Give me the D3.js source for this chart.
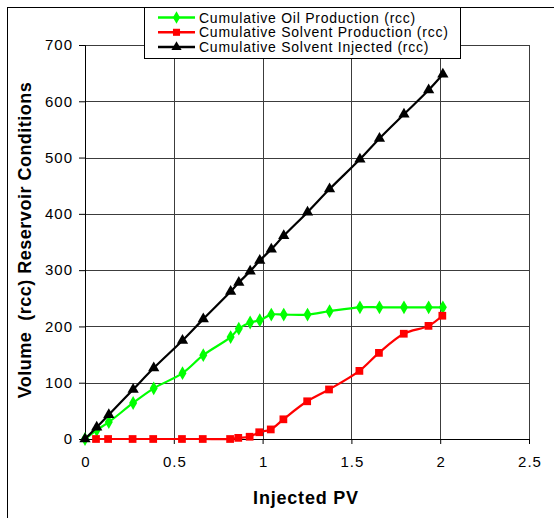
<!DOCTYPE html>
<html>
<head>
<meta charset="utf-8">
<script src="https://cdn.jsdelivr.net/npm/d3@7"></script>
<style>
  body { margin: 0; background: #fff; }
  text { font-family: Arial, "Liberation Sans", sans-serif; }
</style>
</head>
<body>
<div id="chart"></div>
<script>
// values
const pvMain = [0, 0.066, 0.134, 0.271, 0.387, 0.549, 0.666, 0.820, 0.866, 0.930, 0.984, 1.049, 1.119, 1.253, 1.377, 1.548, 1.658, 1.796, 1.935, 2.015];
const oilProduced = [0, 16, 30, 64, 90, 117, 149, 181, 196, 207, 211, 221, 221, 221, 227, 234, 234, 234, 234, 234];
const solventInjected = [0, 21, 43, 88, 126, 175, 213, 262, 278, 298, 317, 337, 361, 403, 444, 497, 534, 577, 620, 648];
const pvSolvent = [0.062, 0.13, 0.268, 0.384, 0.546, 0.663, 0.817, 0.863, 0.927, 0.981, 1.046, 1.117, 1.251, 1.374, 1.545, 1.655, 1.795, 1.934, 2.012];
const solventProduced = [0, 0, 0, 0, 0, 0, 0, 2, 4, 12, 17, 35, 67, 88, 121, 153, 187, 201, 219];
const xTicks = [0, 0.5, 1, 1.5, 2, 2.5];
const yTicks = [0, 100, 200, 300, 400, 500, 600, 700];
const seriesNames = ["Cumulative Oil Production (rcc)", "Cumulative Solvent Production (rcc)", "Cumulative Solvent Injected (rcc)"];

const W = 554, H = 518;
const margin = { top: 45, right: 25, bottom: 79, left: 85 };
const width = W - margin.left - margin.right;
const height = H - margin.top - margin.bottom;

const root = d3.select("#chart").append("svg")
  .attr("width", W)
  .attr("height", H);

// outer chart frame (runs off the right and bottom edges)
root.append("rect")
  .attr("x", 7.5).attr("y", 7.5)
  .attr("width", W + 10).attr("height", H + 10)
  .attr("fill", "none").attr("stroke", "#000").attr("stroke-width", 1);

const svg = root.append("g")
  .attr("transform", `translate(${margin.left},${margin.top})`);

const xScale = d3.scaleLinear().domain([0, 2.5]).range([0, width]);
const yScale = d3.scaleLinear().domain([0, 700]).range([height, 0]);

// grid
svg.append("g")
  .selectAll("line.vg")
  .data(xTicks)
  .join("line")
  .attr("x1", d => Math.round(xScale(d)) + 0.5)
  .attr("x2", d => Math.round(xScale(d)) + 0.5)
  .attr("y1", 0).attr("y2", height)
  .attr("stroke", "#3c3c3c");

svg.append("g")
  .selectAll("line.hg")
  .data(yTicks)
  .join("line")
  .attr("x1", 0).attr("x2", width)
  .attr("y1", d => Math.round(yScale(d)) + 0.5)
  .attr("y2", d => Math.round(yScale(d)) + 0.5)
  .attr("stroke", "#3c3c3c");

// axes
const xAxis = svg.append("g")
  .attr("transform", `translate(0,${height})`)
  .call(d3.axisBottom(xScale).tickValues(xTicks).tickSize(5).tickPadding(12).tickFormat(d3.format("")))
  .attr("font-size", "15px");
xAxis.select(".domain").attr("stroke", "#000");
xAxis.selectAll(".tick text").attr("letter-spacing", "1px").attr("dx", "0.5");

const yAxis = svg.append("g")
  .call(d3.axisLeft(yScale).tickValues(yTicks).tickSize(6).tickPadding(7))
  .attr("font-size", "15px");
yAxis.select(".domain").attr("stroke", "#000");
yAxis.selectAll(".tick text").attr("letter-spacing", "1px").attr("dx", "1");

svg.selectAll(".tick text").attr("fill", "#000").attr("font-family", "Arial, 'Liberation Sans', sans-serif");

// axis titles
svg.append("text")
  .attr("x", width / 2 - 1)
  .attr("y", height + 65)
  .attr("text-anchor", "middle")
  .attr("font-size", "18px")
  .attr("font-weight", "bold")
  .attr("letter-spacing", "0.8px")
  .text("Injected PV");

svg.append("text")
  .attr("transform", "rotate(-90)")
  .attr("x", -(height / 2) + 2)
  .attr("y", -54)
  .attr("text-anchor", "middle")
  .attr("font-size", "18px")
  .attr("font-weight", "bold")
  .attr("letter-spacing", "0.5px")
  .attr("xml:space", "preserve")
  .text("Volume  (rcc) Reservoir Conditions");

const oilData = pvMain.map((x, i) => ({ x, y: oilProduced[i] }));
const injData = pvMain.map((x, i) => ({ x, y: solventInjected[i] }));
const solData = pvSolvent.map((x, i) => ({ x, y: solventProduced[i] }));

const line = d3.line()
  .x(d => xScale(d.x))
  .y(d => yScale(d.y))
  .curve(d3.curveCatmullRom.alpha(0.5));

const series = [
  { name: seriesNames[0], data: oilData, color: "#00ff00", symbol: d3.symbolDiamond, size: 55 },
  { name: seriesNames[1], data: solData, color: "#ff0000", symbol: d3.symbolSquare, size: 60 },
  { name: seriesNames[2], data: injData, color: "#000000", symbol: d3.symbolTriangle, size: 55 }
];

// draw order: oil, solvent produced, injected on top
series.forEach(s => {
  svg.append("path")
    .attr("fill", "none")
    .attr("stroke", s.color)
    .attr("stroke-width", 2.2)
    .attr("d", line(s.data));

  svg.append("g")
    .selectAll("path")
    .data(s.data)
    .join("path")
    .attr("transform", d => `translate(${xScale(d.x)},${yScale(d.y)})`)
    .attr("d", d3.symbol().type(s.symbol).size(s.size))
    .attr("fill", s.color);
});

// legend
const legend = root.append("g").attr("transform", "translate(144,7)");
legend.append("rect")
  .attr("x", 0.5).attr("y", 0.5)
  .attr("width", 316).attr("height", 51)
  .attr("fill", "#fff")
  .attr("stroke", "#000");

series.forEach((s, i) => {
  const yy = 10.5 + i * 14.8;
  legend.append("line")
    .attr("x1", 14).attr("x2", 51)
    .attr("y1", yy).attr("y2", yy)
    .attr("stroke", s.color)
    .attr("stroke-width", 2.5);
  legend.append("path")
    .attr("transform", `translate(32.5,${yy})`)
    .attr("d", d3.symbol().type(s.symbol).size(s.size - 10))
    .attr("fill", s.color);
  legend.append("text")
    .attr("x", 55)
    .attr("y", yy + 5)
    .attr("font-size", "14px")
    .attr("letter-spacing", "0.75px")
    .text(s.name);
});
</script>
</body>
</html>
